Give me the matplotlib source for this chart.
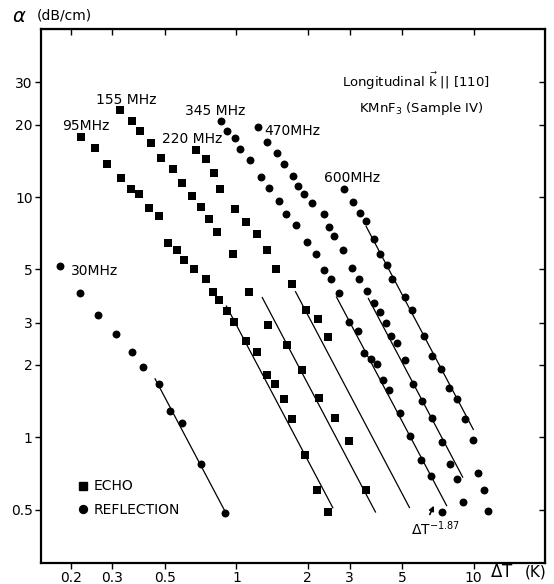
import matplotlib.pyplot as plt
from matplotlib.lines import Line2D

# attenuation alpha (dB/cm) vs Delta T (K)
# echo (squares)
dt_95 = [0.222, 0.253, 0.285, 0.325, 0.358, 0.389, 0.426, 0.470, 0.513, 0.562, 0.603, 0.665, 0.747,
         0.796, 0.848, 0.916, 0.981, 1.099, 1.225, 1.340, 1.458, 1.580, 1.708, 1.937, 2.180, 2.421]
a_95 = [17.84, 16.05, 13.69, 12.03, 10.77, 10.27, 9.03, 8.35, 6.45, 5.99, 5.45, 5.00, 4.55,
        4.03, 3.72, 3.35, 3.02, 2.51, 2.26, 1.82, 1.67, 1.44, 1.19, 0.847, 0.601, 0.489]

dt_155 = [0.322, 0.362, 0.391, 0.435, 0.483, 0.540, 0.589, 0.652, 0.707, 0.765, 0.832, 0.970,
          1.129, 1.357, 1.632, 1.882, 2.219, 2.598, 2.977, 3.524]
a_155 = [23.04, 20.74, 18.89, 16.84, 14.58, 13.04, 11.47, 10.10, 9.06, 8.07, 7.17, 5.79,
         4.02, 2.92, 2.43, 1.91, 1.46, 1.20, 0.962, 0.605]

dt_220 = [0.673, 0.742, 0.802, 0.856, 0.983, 1.093, 1.225, 1.344, 1.462, 1.708, 1.956, 2.204, 2.438]
a_220 = [15.70, 14.36, 12.63, 10.83, 8.91, 7.89, 7.01, 6.00, 5.01, 4.33, 3.38, 3.10, 2.61]

# reflection (circles)
dt_30 = [0.180, 0.219, 0.260, 0.311, 0.363, 0.402, 0.470, 0.527, 0.588, 0.707, 0.898]
a_30 = [5.16, 3.98, 3.23, 2.69, 2.27, 1.97, 1.67, 1.29, 1.15, 0.772, 0.485]

dt_345 = [0.858, 0.916, 0.983, 1.038, 1.140, 1.264, 1.366, 1.505, 1.622, 1.787, 1.981, 2.170, 2.345,
          2.516, 2.702, 2.977, 3.248, 3.450, 3.698, 3.912, 4.135, 4.399, 4.903, 5.403, 6.023, 6.635, 7.333]
a_345 = [20.74, 18.89, 17.56, 15.90, 14.26, 12.08, 10.90, 9.62, 8.47, 7.66, 6.51, 5.77, 4.98,
         4.58, 3.99, 3.02, 2.77, 2.25, 2.12, 2.01, 1.73, 1.57, 1.26, 1.01, 0.802, 0.688, 0.488]

dt_470 = [1.232, 1.344, 1.476, 1.591, 1.724, 1.822, 1.919, 2.087, 2.329, 2.452, 2.584, 2.808, 3.085, 3.286,
          3.558, 3.793, 4.048, 4.278, 4.503, 4.749, 5.159, 5.574, 6.070, 6.668, 7.325, 7.923, 8.480, 9.052]
a_470 = [19.63, 17.00, 15.30, 13.73, 12.20, 11.11, 10.29, 9.44, 8.52, 7.52, 6.87, 5.99, 5.08, 4.56,
         4.07, 3.61, 3.32, 2.99, 2.64, 2.46, 2.09, 1.66, 1.41, 1.20, 0.960, 0.777, 0.670, 0.538]

dt_600 = [2.828, 3.094, 3.308, 3.524, 3.793, 4.048, 4.302, 4.524, 5.149, 5.482, 6.159, 6.680,
          7.290, 7.900, 8.480, 9.156, 9.894, 10.42, 11.01, 11.50]
a_600 = [10.75, 9.51, 8.55, 7.97, 6.68, 5.78, 5.21, 4.58, 3.84, 3.38, 2.64, 2.19,
         1.93, 1.60, 1.45, 1.19, 0.970, 0.713, 0.601, 0.493]

# fitted power laws alpha = A * dT^-1.87
fit_exp = 1.87
fit_amp = [0.40, 2.93, 6.10, 11.8, 23.6, 41.5, 79.5]
fit_start = [0.454, 0.907, 1.285, 1.775, 2.642, 3.60, 3.524]
fit_end = [0.898, 2.549, 3.856, 5.362, 7.694, 8.99, 9.97]

freq_labels = ['30MHz', '95MHz', '155 MHz', '220 MHz', '345 MHz', '470MHz', '600MHz']
label_x = [0.253, 0.232, 0.342, 0.651, 0.813, 1.719, 3.07]
label_y = [4.91, 19.67, 25.4, 17.45, 22.8, 18.84, 12.0]

xticks = [0.2, 0.3, 0.5, 1, 2, 3, 5, 10]
yticks = [0.5, 1, 2, 3, 5, 10, 20, 30]

fig = plt.figure(figsize=(5.54, 5.84), dpi=100)
ax = fig.add_axes([0.074, 0.036, 0.9098, 0.9143])

ms = 5.3
for dt, a in [(dt_95, a_95), (dt_155, a_155), (dt_220, a_220)]:
    ax.plot(dt, a, 's', color='k', ms=ms, mew=0)
for dt, a in [(dt_30, a_30), (dt_345, a_345), (dt_470, a_470), (dt_600, a_600)]:
    ax.plot(dt, a, 'o', color='k', ms=ms + 0.4, mew=0)

for A, x0, x1 in zip(fit_amp, fit_start, fit_end):
    ax.plot([x0, x1], [A * x0 ** -fit_exp, A * x1 ** -fit_exp], color='k', lw=0.9)

for lab, x, y in zip(freq_labels, label_x, label_y):
    ax.text(x, y, lab, ha='center', va='center', fontsize=10)

ax.set_xscale('log')
ax.set_yscale('log')
ax.set_xlim(0.15, 20)
ax.set_ylim(0.3, 50)
ax.set_xticks(xticks)
ax.set_xticklabels([str(t) for t in xticks])
ax.set_yticks(yticks)
ax.set_yticklabels([str(t) for t in yticks])
ax.minorticks_off()
ax.tick_params(direction='out', length=4, width=1, labelsize=10, pad=2)
for sp in ax.spines.values():
    sp.set_linewidth(1.6)

# top / right ticks point inward
top = ax.secondary_xaxis('top')
top.set_xticks(xticks)
top.set_xticklabels([])
top.minorticks_off()
top.tick_params(direction='in', length=4, width=1)
right = ax.secondary_yaxis('right')
right.set_yticks(yticks)
right.set_yticklabels([])
right.minorticks_off()
right.tick_params(direction='in', length=4, width=1)

ax.text(0.744, 0.902, r'Longitudinal $\vec{\mathrm{k}}$ || [110]', transform=ax.transAxes,
        ha='center', va='center', fontsize=9.5)
ax.text(0.754, 0.852, r'KMnF$_3$ (Sample IV)', transform=ax.transAxes,
        ha='center', va='center', fontsize=9.5)

ax.annotate('', xy=(6.88, 0.532), xytext=(6.46, 0.466),
            arrowprops=dict(arrowstyle='-|>', color='k', lw=1.2, mutation_scale=7))
ax.text(6.9, 0.418, r'$\Delta\mathrm{T}^{-1.87}$', ha='center', va='center', fontsize=10)

handles = [Line2D([], [], marker='s', color='k', ls='', ms=ms),
           Line2D([], [], marker='o', color='k', ls='', ms=ms + 0.4)]
ax.legend(handles, ['ECHO', 'REFLECTION'], loc='upper left', bbox_to_anchor=(0.05, 0.18),
          frameon=False, handlelength=0.6, handletextpad=0.5, labelspacing=0.7, fontsize=10)

fig.text(0.022, 0.972, r'$\alpha$', fontsize=14, va='center')
fig.text(0.066, 0.974, '(dB/cm)', fontsize=10, va='center')
fig.text(0.885, 0.02, r'$\Delta$T', fontsize=12, va='center')
fig.text(0.948, 0.02, '(K)', fontsize=11, va='center')

fig.savefig('out.png', dpi=100)
